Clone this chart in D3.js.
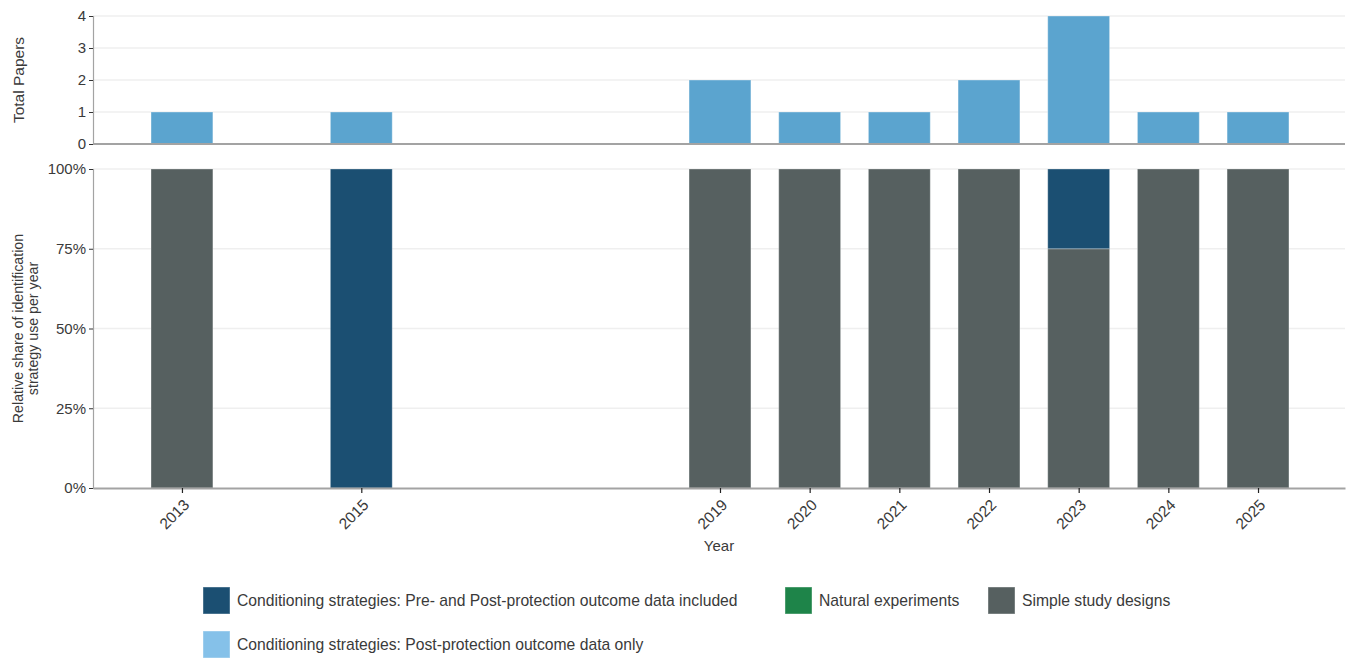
<!DOCTYPE html>
<html>
<head>
<meta charset="utf-8">
<script src="https://cdn.jsdelivr.net/npm/d3@7"></script>
<style>
  html, body { margin: 0; padding: 0; background: #fff; }
  svg { display: block; font-family: "Liberation Sans", Arial, sans-serif; }
</style>
</head>
<body>
<svg id="chart" width="1349" height="660"></svg>
<script>
// Publication years and counts
const years = [2013, 2015, 2019, 2020, 2021, 2022, 2023, 2024, 2025];
const totalPapers = [1, 1, 2, 1, 1, 2, 4, 1, 1];

// Strategy categories (legend order = stack order from top to bottom)
const strategies = [
  "Conditioning strategies: Pre- and Post-protection outcome data included",
  "Conditioning strategies: Post-protection outcome data only",
  "Natural experiments",
  "Simple study designs"
];
const strategyColors = ["#1b4f72", "#85c1e9", "#1e8449", "#566060"];

// Share of each strategy per year (same order as `years`)
const sharePrePost   = [0, 1, 0, 0, 0, 0, 0.25, 0, 0];
const sharePostOnly  = [0, 0, 0, 0, 0, 0, 0, 0, 0];
const shareNatural   = [0, 0, 0, 0, 0, 0, 0, 0, 0];
const shareSimple    = [1, 0, 1, 1, 1, 1, 0.75, 1, 1];

const totalTicks = [0, 1, 2, 3, 4];
const shareTicks = [0, 0.25, 0.5, 0.75, 1];

const totalBarColor = "#5ba4cf";

const svg = d3.select("#chart");
const left = 93, right = 1345;

const x = d3.scaleLinear().domain([2012.008, 2025.97]).range([left, right]);
const barW = x(2013.69) - x(2013);

const yTop = d3.scaleLinear().domain([0, 4]).range([144, 16]);
const yBot = d3.scaleLinear().domain([0, 1]).range([488, 169]);

const gridColor = "#efefef";
const axisColor = "#a3a3a3";
const textColor = "#3a3a3a";

// ---------- upper panel: total papers ----------
const upper = svg.append("g");
upper.selectAll("line.grid").data(totalTicks.filter(d => d > 0)).join("line")
  .attr("x1", left).attr("x2", right)
  .attr("y1", d => yTop(d)).attr("y2", d => yTop(d))
  .attr("stroke", gridColor).attr("stroke-width", 1.5);

upper.selectAll("rect").data(years).join("rect")
  .attr("x", (d) => x(d) - barW / 2)
  .attr("width", barW)
  .attr("y", (d, i) => yTop(totalPapers[i]))
  .attr("height", (d, i) => yTop(0) - yTop(totalPapers[i]))
  .attr("fill", totalBarColor)
  .attr("stroke", "rgba(255,255,255,0.35)").attr("stroke-width", 1);

const upperAxis = upper.append("g").attr("transform", `translate(${left},0)`)
  .call(d3.axisLeft(yTop).tickValues(totalTicks).tickFormat(d3.format("d")).tickSize(4).tickPadding(3));
upperAxis.select(".domain").attr("stroke", axisColor).attr("stroke-width", 1.2);
upperAxis.selectAll(".tick line").attr("stroke", "#333");
upperAxis.selectAll(".tick text").attr("fill", textColor).style("font-size", "15px");

upper.append("line").attr("x1", left).attr("x2", right).attr("y1", yTop(0)).attr("y2", yTop(0))
  .attr("stroke", axisColor).attr("stroke-width", 2);

upper.append("text")
  .attr("transform", `translate(24,${(yTop(0) + yTop(4)) / 2}) rotate(-90)`)
  .attr("text-anchor", "middle").attr("fill", textColor).style("font-size", "15.5px")
  .text("Total Papers");

// ---------- lower panel: relative shares ----------
const lower = svg.append("g");
lower.selectAll("line.grid").data(shareTicks.filter(d => d > 0)).join("line")
  .attr("x1", left).attr("x2", right)
  .attr("y1", d => yBot(d)).attr("y2", d => yBot(d))
  .attr("stroke", gridColor).attr("stroke-width", 1.5);

const rows = years.map((yr, i) => ({
  year: yr,
  [strategies[0]]: sharePrePost[i],
  [strategies[1]]: sharePostOnly[i],
  [strategies[2]]: shareNatural[i],
  [strategies[3]]: shareSimple[i]
}));
// bottom of the stack is the last category
const stacked = d3.stack().keys(strategies.slice().reverse())(rows);
const colorOf = d3.scaleOrdinal().domain(strategies).range(strategyColors);

lower.selectAll("g.layer").data(stacked).join("g")
  .attr("fill", d => colorOf(d.key))
  .selectAll("rect").data(d => d.filter(s => s[1] - s[0] > 0)).join("rect")
  .attr("x", d => x(d.data.year) - barW / 2)
  .attr("width", barW)
  .attr("y", d => yBot(d[1]))
  .attr("height", d => yBot(d[0]) - yBot(d[1]))
  .attr("stroke", "rgba(255,255,255,0.3)").attr("stroke-width", 1);

const lowerAxis = lower.append("g").attr("transform", `translate(${left},0)`)
  .call(d3.axisLeft(yBot).tickValues(shareTicks).tickFormat(d3.format(".0%")).tickSize(4).tickPadding(3));
lowerAxis.select(".domain").attr("stroke", axisColor).attr("stroke-width", 1.2);
lowerAxis.selectAll(".tick line").attr("stroke", "#333");
lowerAxis.selectAll(".tick text").attr("fill", textColor).style("font-size", "15px");

const xAxis = lower.append("g").attr("transform", `translate(0,${yBot(0)})`)
  .call(d3.axisBottom(x).tickValues(years).tickFormat(d3.format("d")).tickSize(5).tickSizeOuter(0));
xAxis.select(".domain").attr("stroke", axisColor).attr("stroke-width", 2);
xAxis.selectAll(".tick line").attr("stroke", "#222").attr("stroke-width", 1.2);
xAxis.selectAll(".tick text")
  .attr("fill", textColor).style("font-size", "15.5px")
  .attr("text-anchor", "end")
  .attr("dy", "0.35em")
  .attr("transform", "translate(4,14) rotate(-45)")
  .attr("x", 0).attr("y", 0);

svg.append("text")
  .attr("x", (left + right) / 2).attr("y", 551)
  .attr("text-anchor", "middle").attr("fill", textColor).style("font-size", "15px")
  .text("Year");

const yMid = (yBot(0) + yBot(1)) / 2;
const yTitle = svg.append("text")
  .attr("transform", `translate(23,${yMid}) rotate(-90)`)
  .attr("text-anchor", "middle").attr("fill", textColor).style("font-size", "14.2px");
yTitle.append("tspan").attr("x", 0).attr("dy", 0).text("Relative share of identification");
yTitle.append("tspan").attr("x", 0).attr("dy", "1.05em").text("strategy use per year");

// ---------- legend ----------
const legendPos = [
  { x: 203, y: 587 },
  { x: 203, y: 631 },
  { x: 785, y: 587 },
  { x: 988, y: 587 }
];
const legend = svg.append("g");
const items = legend.selectAll("g").data(strategies).join("g")
  .attr("transform", (d, i) => `translate(${legendPos[i].x},${legendPos[i].y})`);
items.append("rect").attr("width", 27).attr("height", 27)
  .attr("fill", d => colorOf(d))
  .attr("stroke", "rgba(255,255,255,0.4)").attr("stroke-width", 1);
items.append("text").attr("x", 34).attr("y", 14).attr("dy", "0.35em")
  .attr("fill", textColor).style("font-size", "15.7px")
  .text(d => d);
</script>
</body>
</html>
